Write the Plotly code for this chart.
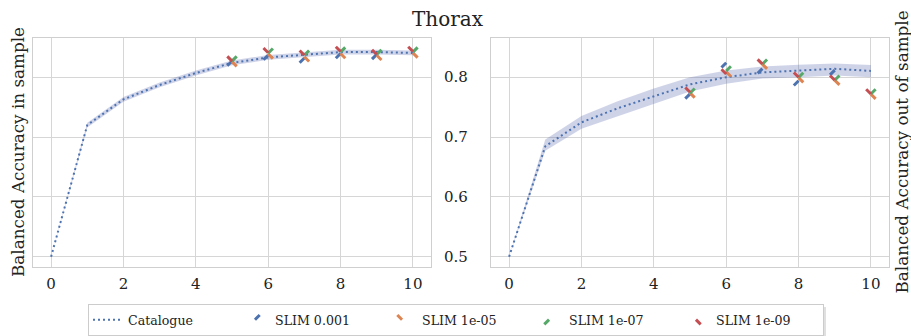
import plotly.graph_objects as go

# ---------------- data ----------------
steps = [0, 1, 2, 3, 4, 5, 6, 7, 8, 9, 10]

cat_in_mean = [0.500, 0.720, 0.763, 0.787, 0.807, 0.824, 0.833, 0.838, 0.842, 0.842, 0.8405]
cat_in_low = [0.500, 0.716, 0.759, 0.783, 0.803, 0.820, 0.829, 0.834, 0.838, 0.838, 0.8365]
cat_in_high = [0.500, 0.724, 0.767, 0.791, 0.811, 0.828, 0.837, 0.842, 0.846, 0.846, 0.8445]

cat_out_mean = [0.500, 0.6845, 0.7245, 0.748, 0.768, 0.788, 0.800, 0.808, 0.811, 0.814, 0.8105]
cat_out_low = [0.500, 0.677, 0.714, 0.735, 0.755, 0.776, 0.789, 0.798, 0.800, 0.803, 0.800]
cat_out_high = [0.500, 0.696, 0.735, 0.760, 0.781, 0.800, 0.811, 0.818, 0.821, 0.823, 0.8205]

slim_names = ["SLIM 0.001", "SLIM 1e-05", "SLIM 1e-07", "SLIM 1e-09"]
slim_x = [[5, 6, 7, 8, 9], [5, 6, 7, 8, 9, 10], [5, 6, 7, 8, 9, 10], [5, 6, 7, 8, 9, 10]]
slim_in = [
    [0.827, 0.837, 0.832, 0.8395, 0.838],
    [0.826, 0.839, 0.834, 0.8395, 0.8367, 0.8405],
    [0.827, 0.840, 0.8367, 0.842, 0.838, 0.842],
    [0.827, 0.841, 0.8367, 0.843, 0.838, 0.843],
]
slim_out = [
    [0.772, 0.824, 0.8143, 0.794, 0.8117],
    [0.7738, 0.809, 0.8217, 0.7993, 0.795, 0.7717],
    [0.7733, 0.8105, 0.8217, 0.7995, 0.795, 0.772],
    [0.775, 0.8055, 0.822, 0.800, 0.795, 0.772],
]
y_ticks = [0.5, 0.6, 0.7, 0.8]
x_ticks = [0, 2, 4, 6, 8, 10]

# ---------------- style ----------------
FONT = "DejaVu Serif"
BLUE = "#4C72B0"
slim_colors = ["#4C72B0", "#DD8452", "#55A868", "#C44E52"]
slim_angles = [45, -45, 225, 135]  # direction of each arm
BAND = "rgba(95,110,180,0.30)"
GRID = "#d6d6d6"
TXT = "#222222"

fig = go.Figure()

panels = [("x", "y", cat_in_mean, cat_in_low, cat_in_high, slim_in),
          ("x2", "y2", cat_out_mean, cat_out_low, cat_out_high, slim_out)]

for pi, (xa, ya, mean, low, high, slim_vals) in enumerate(panels):
    fig.add_trace(go.Scatter(x=steps, y=high, xaxis=xa, yaxis=ya, mode="lines",
                             line=dict(width=0, color=BAND), showlegend=False,
                             hoverinfo="skip"))
    fig.add_trace(go.Scatter(x=steps, y=low, xaxis=xa, yaxis=ya, mode="lines",
                             line=dict(width=0, color=BAND), fill="tonexty",
                             fillcolor=BAND, showlegend=False, hoverinfo="skip"))
    fig.add_trace(go.Scatter(x=steps, y=mean, xaxis=xa, yaxis=ya, mode="lines",
                             name="Catalogue", legendgroup="cat",
                             showlegend=(pi == 0),
                             line=dict(color=BLUE, width=2, dash="2px,3px")))
    for si in range(4):
        fig.add_trace(go.Scatter(
            x=slim_x[si], y=slim_vals[si], xaxis=xa, yaxis=ya, mode="markers",
            name=slim_names[si], legendgroup=slim_names[si], showlegend=(pi == 0),
            marker=dict(symbol="line-ns", size=4.8, angle=slim_angles[si], standoff=3.3,
                        color=slim_colors[si],
                        line=dict(width=3, color=slim_colors[si]))))

yr = [0.4828, 0.8655]
xr = [-0.5, 10.5]
axis_common = dict(showgrid=True, gridcolor=GRID, gridwidth=1.3, showline=True,
                   linecolor="#cfcfcf", linewidth=1.3, mirror=True, zeroline=False,
                   ticks="", tickfont=dict(family=FONT, size=15, color=TXT))

# legend drop shadow (drawn beneath the white legend box)
shadow_l, shadow_r, shadow_t, shadow_b = 91, 826, 307, 338
fig.add_shape(type="rect", xref="paper", yref="paper", layer="below",
              x0=(shadow_l - 33) / 856, x1=(shadow_r - 33) / 856,
              y0=(267 - shadow_t) / 229, y1=(267 - shadow_b) / 229,
              line=dict(width=0), fillcolor="rgba(0,0,0,0.12)")

fig.update_layout(
    width=911, height=336,
    margin=dict(l=33, r=22, t=38, b=69, autoexpand=False),
    paper_bgcolor="white", plot_bgcolor="white",
    font=dict(family=FONT, color=TXT),
    title=dict(text="Thorax", x=447.5 / 911, xref="container", xanchor="center",
               y=1 - 18.5 / 336, yanchor="middle", yref="container",
               font=dict(family=FONT, size=20, color=TXT)),
    xaxis=dict(domain=[0, 398 / 856], range=xr, tickvals=x_ticks, anchor="y",
               ticklabelstandoff=3, **axis_common),
    xaxis2=dict(domain=[458 / 856, 1], range=xr, tickvals=x_ticks, anchor="y2",
                ticklabelstandoff=3, **axis_common),
    yaxis=dict(range=yr, tickvals=y_ticks, anchor="x", showticklabels=False,
               **axis_common),
    yaxis2=dict(range=yr, tickvals=y_ticks, anchor="x2", showticklabels=True,
                ticklabelstandoff=19, **axis_common),
    legend=dict(orientation="h", x=(88 - 33) / 856, xanchor="left",
                y=(267 - 304) / 229, yanchor="top",
                bgcolor="white", bordercolor="#cccccc", borderwidth=1,
                font=dict(family=FONT, size=12.6, color=TXT),
                entrywidth=102, entrywidthmode="pixels"),
    annotations=[
        dict(text="Balanced Accuracy in sample", xref="paper", yref="paper",
             x=(17.5 - 33) / 856, y=0.5, xanchor="center", yanchor="middle",
             textangle=-90, showarrow=False,
             font=dict(family=FONT, size=16.8, color=TXT)),
        dict(text="Balanced Accuracy out of sample", xref="paper", yref="paper",
             x=(901 - 33) / 856, y=0.5, xanchor="center", yanchor="middle",
             textangle=-90, showarrow=False,
             font=dict(family=FONT, size=16.8, color=TXT)),
    ],
)

fig.write_html("out.html")
